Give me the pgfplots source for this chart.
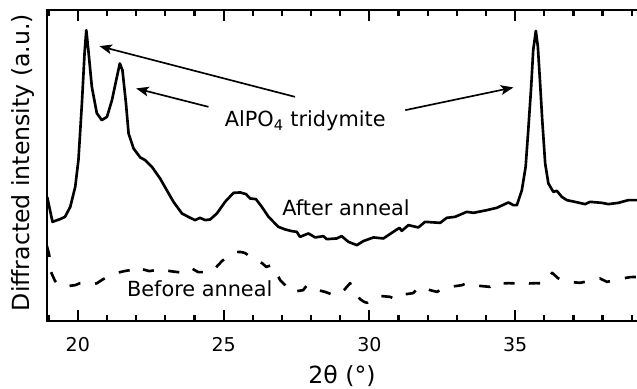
\documentclass[border=0pt]{standalone}
\usepackage{fontspec}
\setmainfont{DejaVu Sans}
\usepackage{pgfplots}
\pgfplotsset{compat=1.18}
\usetikzlibrary{arrows.meta}
\begin{document}
\begin{tikzpicture}
\begin{axis}[
  scale only axis, width=426pt, height=223.9pt,
  xmin=18.94, xmax=39.237, ymin=0, ymax=311,
  axis line style={line width=1.9pt, black},
  xtick={20,25,30,35},
  minor xtick={19,21,22,23,24,26,27,28,29,31,32,33,34,36,37,38,39},
  xtick pos=both,
  ytick=\empty,
  tick align=inside,
  major tick length=8pt, minor tick length=4.5pt,
  every tick/.style={draw=black, line width=1.6pt},
  /pgf/number format/assume math mode=true,
  xticklabel style={font=\fontsize{13.7}{16}\selectfont, anchor=base, yshift=-21.6pt},
  xlabel={2θ (°)},
  xlabel style={at={(axis description cs:0.5,-0.199)}, anchor=base, font=\fontsize{17}{20}\selectfont, xshift=-0.6pt},
  ylabel={Diffracted intensity (a.u.)},
  ylabel style={at={(axis description cs:-0.0302,0.51)}, anchor=base, font=\fontsize{17}{20}\selectfont},
]
% After anneal
\addplot[black, line width=1.9pt, line join=round] coordinates {
(18.95,124) (19.13,99.3) (19.39,102) (19.56,104.3) (19.74,114.3) (19.91,134.3)
(20.02,161) (20.14,218) (20.23,268) (20.29,291) (20.36,271) (20.48,234.3)
(20.65,208) (20.82,201) (21.0,204.3) (21.17,221) (21.34,244.3) (21.44,257.7)
(21.53,251) (21.65,218) (21.74,187.7) (21.91,172.7) (22.14,163.7) (22.31,161)
(22.54,154.3) (22.82,142.7) (23.05,131) (23.28,119.3) (23.57,107.7) (23.79,104.3)
(24.02,101) (24.19,103.3) (24.37,101) (24.54,101.7) (24.77,107.7) (25.05,119.3)
(25.34,128.3) (25.57,128.7) (25.77,127) (25.91,122.7) (26.11,122) (26.31,114.3)
(26.54,104.3) (26.88,94.3) (27.11,91.7) (27.34,90) (27.51,89.3) (27.62,84.3)
(27.91,87.7) (28.14,83.7) (28.42,85) (28.54,82) (28.88,82.7) (29.05,85)
(29.28,79.3) (29.57,76) (29.79,80) (30.14,83.7) (30.48,82.7) (30.82,89.3)
(31.03,93.3) (31.11,90.3) (31.34,96) (31.68,93.7) (31.91,99.3) (32.43,98.3)
(32.65,103.3) (32.94,104.3) (33.34,109.3) (33.57,108.3) (34.03,111) (34.37,113.3)
(34.77,118.7) (34.94,116) (35.06,116) (35.23,131) (35.36,154.3) (35.45,191)
(35.55,234.3) (35.62,271) (35.71,290.3) (35.78,274.3) (35.85,241) (35.93,201)
(36.03,157.7) (36.14,137.7) (36.31,129.3) (36.43,130.3) (36.6,124.3) (36.77,121)
(37.05,119.3) (37.4,117) (37.57,119.3) (37.97,118.3) (38.2,117) (38.54,118.3)
(38.88,121) (39.24,121)
};
% Before anneal
\addplot[black, line width=1.9pt, line join=round, dash pattern=on 8pt off 11pt] coordinates {
(18.94,75) (19.02,66) (19.08,49) (19.22,40) (19.39,35) (19.63,35) (19.91,36)
(20.08,38) (20.25,37) (20.42,36) (20.66,38) (20.87,42) (21.11,45) (21.35,48.3)
(21.59,50) (21.79,51) (22.0,55) (22.21,52) (22.45,50) (22.65,51) (22.82,53)
(22.99,51) (23.17,50) (23.44,49) (23.68,48.3) (23.89,53) (24.13,49) (24.37,49)
(24.61,49.3) (24.78,55) (24.95,60.3) (25.19,65) (25.46,69.3) (25.63,69) (25.74,68)
(25.84,66) (26.08,61) (26.32,58) (26.46,54.3) (26.66,56) (26.8,49) (26.94,41)
(27.11,36) (27.28,29.3) (27.52,30) (27.73,31) (27.86,36) (28.04,34) (28.24,31)
(28.48,29.3) (28.69,27) (28.93,26) (29.13,31) (29.34,38) (29.44,31) (29.58,26)
(29.68,22) (29.82,19.3) (29.92,18.3) (30.2,24.3) (30.44,25) (30.71,24.3) (30.88,22)
(31.05,26) (31.26,27) (31.5,28) (31.7,34) (31.91,33.7) (32.08,31) (32.32,29.3)
(32.49,32) (32.66,34.3) (32.94,35) (33.18,36) (33.35,38.3) (33.59,36) (33.87,35)
(34.14,34.3) (34.35,39.3) (34.55,37.7) (34.79,38) (35.03,37.7) (35.24,40.3) (35.48,37.7)
(35.72,38) (35.96,37.7) (36.13,43) (36.27,48.3) (36.47,43) (36.71,39.3) (36.95,39)
(37.23,38.3) (37.5,40) (37.74,41) (37.91,42.7) (38.15,39.3) (38.43,41) (38.7,42.7)
(38.94,44) (39.24,44.3)
};
\node[font=\fontsize{15}{18}\selectfont, anchor=base] at (axis cs:27.8,194.3) {AlPO\textsubscript{4} tridymite};
\node[font=\fontsize{15}{18}\selectfont, anchor=base] at (axis cs:29.2,106) {After anneal};
\node[font=\fontsize{15}{18}\selectfont, anchor=base] at (axis cs:24.18,24.3) {Before anneal};
\draw[-{Stealth[length=9pt,width=7pt,inset=2pt]}, line width=1.2pt] (axis cs:27.45,224.3) -- (axis cs:20.74,275);
\draw[-{Stealth[length=9pt,width=7pt,inset=2pt]}, line width=1.2pt] (axis cs:24.48,214.3) -- (axis cs:22.0,232.7);
\draw[-{Stealth[length=9pt,width=7pt,inset=2pt]}, line width=1.2pt] (axis cs:31.23,211) -- (axis cs:34.94,233.7);
\end{axis}
\pgfresetboundingbox
\path (current axis.south west) ++(-33.8pt,-48.2pt) rectangle ++(458.6pt,279.4pt);
\end{tikzpicture}
\end{document}
